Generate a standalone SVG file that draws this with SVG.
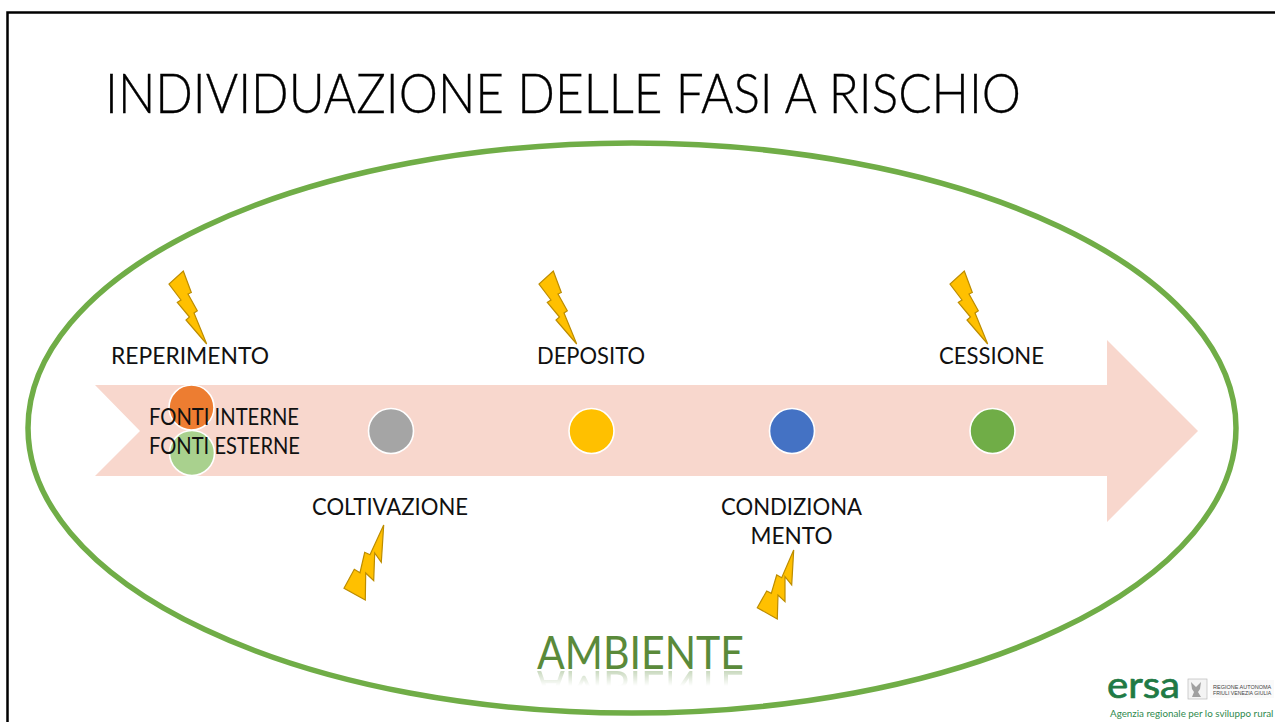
<svg xmlns="http://www.w3.org/2000/svg" width="1275" height="722" viewBox="0 0 1275 722">
<style>
.lb{font-family:"Lato","Carlito","Liberation Sans",sans-serif;font-size:23px;fill:#111}
.bolt{fill:#ffc000;stroke:#bc8c00;stroke-width:1.2;stroke-linejoin:miter}
.dot{stroke:#fff;stroke-width:1.6}
</style>
<defs>
<polygon id="boltA" class="bolt" points="183.3,271 191.3,292.5 188,294 197.3,310.7 194,313 206.7,344 186,320 189.5,317 177.3,302.3 181,300 169,284"/>
<linearGradient id="fade" x1="0" y1="670" x2="0" y2="686" gradientUnits="userSpaceOnUse"><stop offset="0" stop-color="#fff" stop-opacity=".35"/><stop offset="1" stop-color="#fff" stop-opacity="0"/></linearGradient>
<mask id="refl" maskUnits="userSpaceOnUse" x="500" y="668" width="280" height="30"><rect x="500" y="668" width="280" height="30" fill="url(#fade)"/></mask>
</defs>
<rect width="1275" height="722" fill="#fff"/>
<path id="frame" d="M7.5 722V12.5H1275" fill="none" stroke="#000" stroke-width="2.5"/>
<text id="title" x="105" y="113" textLength="916" lengthAdjust="spacingAndGlyphs" style="font-family:'Lato','Carlito','Liberation Sans',sans-serif;font-weight:300;font-size:55px;fill:#000;stroke:#000;stroke-width:.35">INDIVIDUAZIONE DELLE FASI A RISCHIO</text>
<g id="ambiente-ellipse"><ellipse cx="632" cy="428" rx="604" ry="285" fill="none" stroke="#70ad47" stroke-width="5.5"/></g>
<g id="process-arrow"><polygon points="95,385 1107,385 1107,340 1198,431 1107,522 1107,476 95,476 140,431" fill="#f8d7cd"/></g>
<g id="connectors"></g>
<g id="node-fonti">
<circle class="dot" cx="191.5" cy="407.5" r="22.5" fill="#ed7d31"/>
<circle class="dot" cx="192" cy="453" r="22.5" fill="#a9d18e"/>
<text class="lb" x="149" y="424.5" textLength="150" lengthAdjust="spacingAndGlyphs">FONTI INTERNE</text>
<text class="lb" x="149" y="453.5" textLength="151" lengthAdjust="spacingAndGlyphs">FONTI ESTERNE</text>
</g>
<g id="node-reperimento">
<use href="#boltA"/>
<text class="lb" x="111" y="363.5" textLength="158" lengthAdjust="spacingAndGlyphs">REPERIMENTO</text>
</g>
<g id="node-coltivazione">
<circle class="dot" cx="391" cy="431" r="22.5" fill="#a5a5a5"/>
<text class="lb" x="312" y="514.5" textLength="156" lengthAdjust="spacingAndGlyphs">COLTIVAZIONE</text>
<polygon class="bolt" points="383.7,525 381.3,562.3 374.7,553 373.7,580.7 365.7,573 365.3,600 344,588.3 354.3,569.3 360,572.7 364.7,552.3 370,554.7"/>
</g>
<g id="node-deposito">
<circle class="dot" cx="591.5" cy="431" r="22.5" fill="#ffc000"/>
<use href="#boltA" x="370"/>
<text class="lb" x="537" y="363.5" textLength="108" lengthAdjust="spacingAndGlyphs">DEPOSITO</text>
</g>
<g id="node-condizionamento">
<circle class="dot" cx="792" cy="431" r="22.5" fill="#4472c4"/>
<text class="lb" x="721" y="514.5" textLength="141" lengthAdjust="spacingAndGlyphs">CONDIZIONA</text>
<text class="lb" x="750.5" y="543.5" textLength="82" lengthAdjust="spacingAndGlyphs">MENTO</text>
<polygon class="bolt" points="793.7,550 791.7,585 785,576.7 785,601.7 778,595 777.3,619 757.3,607.7 766.7,591 771.3,593.3 776.7,575 781.7,577.7"/>
</g>
<g id="node-cessione">
<circle class="dot" cx="992.5" cy="431" r="22.5" fill="#70ad47"/>
<use href="#boltA" x="781"/>
<text class="lb" x="939" y="363.5" textLength="105" lengthAdjust="spacingAndGlyphs">CESSIONE</text>
</g>
<g id="node-ambiente">
<text id="amb" x="537" y="669" textLength="207" lengthAdjust="spacingAndGlyphs" style="font-family:'Lato','Carlito','Liberation Sans',sans-serif;font-size:46px;fill:#5a8a3a">AMBIENTE</text>
<g mask="url(#refl)"><use href="#amb" transform="matrix(1 0 0 -1 0 1340)"/></g>
</g>
<g id="logo">
<text x="1107" y="698" textLength="73" lengthAdjust="spacingAndGlyphs" style="font-family:'Lato','Liberation Sans',sans-serif;font-size:36px;font-weight:400;fill:#1f7a45;stroke:#1f7a45;stroke-width:.7">ersa</text>
<rect x="1188" y="679" width="19" height="20" fill="#f4f4f4" stroke="#bbb" stroke-width=".7"/>
<path d="M1191 682l5 5 5-5-1 7-2 3 3 5h-9l2-5-2-3z" fill="#a0a0a0"/>
<rect x="1210" y="680" width="64" height="18" fill="#fafafa"/>
<text x="1213" y="688.5" style="font-family:'Liberation Sans',sans-serif;font-size:5.5px;fill:#444">REGIONE AUTONOMA</text>
<text x="1213" y="695" style="font-family:'Liberation Sans',sans-serif;font-size:5.2px;fill:#444">FRIULI VENEZIA GIULIA</text>
<text x="1110" y="717" style="font-family:'Liberation Sans Narrow','Lato','Liberation Sans',sans-serif;font-size:9.8px;fill:#2f8a4e">Agenzia regionale per lo sviluppo rural</text>
</g>
</svg>
